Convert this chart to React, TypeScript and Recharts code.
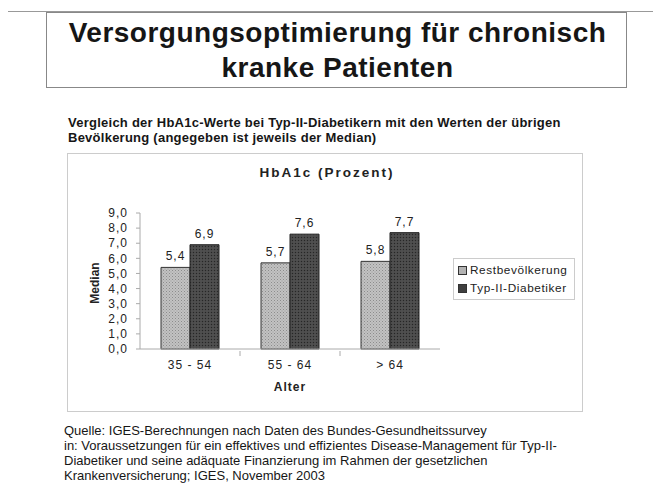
import React from "react";
import { BarChart, Bar, XAxis, YAxis, LabelList } from "recharts";

const categories = ["35 - 54", "55 - 64", "> 64"];
const restValues = [5.4, 5.7, 5.8];
const typ2Values = [6.9, 7.6, 7.7];
const yTicks = [0, 1, 2, 3, 4, 5, 6, 7, 8, 9];
const seriesNames = ["Restbevölkerung", "Typ-II-Diabetiker"];

const data = categories.map((c, i) => ({ cat: c, rest: restValues[i], typ2: typ2Values[i] }));

const fmt = (v: number) => v.toFixed(1).replace(".", ",");

const FONT = "'Liberation Sans', Arial, sans-serif";
const LIGHT = "#b3b3b3";
const DARK = "#3f3f3f";

const XTick = (props: any) => {
  const { x, y, payload, index } = props;
  return (
    <g>
      <text x={x} y={y + 12} textAnchor="middle" fontSize={12} fill="#222" fontFamily={FONT} style={{ letterSpacing: 1 }}>
        {payload.value}
      </text>
      {index < categories.length - 1 && (
        <line x1={x + 50} x2={x + 50} y1={y - 6} y2={y - 1} stroke="#aaa" />
      )}
    </g>
  );
};

export default function App() {
  return (
    <div style={{ position: "relative", width: 661, height: 500, margin: -8, background: "#fff", fontFamily: FONT, overflow: "hidden" }}>
      {/* outer frame */}
      <div style={{ position: "absolute", left: 7, top: 11, width: 660, height: 500, borderLeft: "1px solid #888", borderTop: "1px solid #999" }} />
      {/* title box */}
      <div style={{ position: "absolute", left: 46, top: 12, width: 581, height: 76, border: "1px solid #888", boxSizing: "border-box" }} />
      <div style={{ position: "absolute", left: 46, top: 15, width: 583, textAlign: "center", fontWeight: "bold", fontSize: 28, lineHeight: "35px", letterSpacing: 0.5, color: "#161616" }}>
        Versorgungsoptimierung für chronisch<br />kranke Patienten
      </div>
      {/* subtitle */}
      <div style={{ position: "absolute", left: 68, top: 115, fontWeight: "bold", fontSize: 13, lineHeight: "15px", letterSpacing: 0.25, color: "#161616" }}>
        Vergleich der HbA1c-Werte bei Typ-II-Diabetikern mit den Werten der übrigen<br />Bevölkerung (angegeben ist jeweils der Median)
      </div>
      {/* chart box */}
      <div style={{ position: "absolute", left: 67, top: 153, width: 516, height: 259, border: "1px solid #ccc", boxSizing: "border-box" }} />
      <div style={{ position: "absolute", left: 67, top: 165, width: 520, textAlign: "center", fontWeight: "bold", fontSize: 13.5, letterSpacing: 2, color: "#222" }}>HbA1c (Prozent)</div>
      <div style={{ position: "absolute", left: 95, top: 283, transform: "translate(-50%,-50%) rotate(-90deg)", fontWeight: "bold", fontSize: 12, color: "#222", whiteSpace: "nowrap" }}>Median</div>
      <div style={{ position: "absolute", left: 140, width: 300, top: 380, textAlign: "center", fontWeight: "bold", fontSize: 12, letterSpacing: 1, color: "#222" }}>Alter</div>
      <div style={{ position: "absolute", left: 67, top: 153 }}>
        <BarChart width={516} height={258} data={data} margin={{ top: 60, right: 143, bottom: 32, left: 33 }} barCategoryGap="21%" barGap={0}>
          <defs>
            <pattern id="patLight" width="3" height="3" patternUnits="userSpaceOnUse">
              <rect width="3" height="3" fill="#c2c2c2" />
              <rect x="0" y="0" width="1" height="1" fill="#8c8c8c" />
              <rect x="1.5" y="1.5" width="1" height="1" fill="#9a9a9a" />
            </pattern>
            <pattern id="patDark" width="3" height="3" patternUnits="userSpaceOnUse">
              <rect width="3" height="3" fill="#4a4a4a" />
              <rect x="0" y="0" width="1" height="1" fill="#262626" />
              <rect x="1.5" y="1.5" width="1" height="1" fill="#5e5e5e" />
            </pattern>
          </defs>
          <XAxis dataKey="cat" tick={<XTick />} tickLine={false} stroke="#aaa" height={30} />
          <YAxis domain={[0, 9]} ticks={yTicks} tickFormatter={fmt} interval={0} width={40} stroke="#aaa" tick={{ fill: "#222", fontSize: 12, letterSpacing: 1, fontFamily: FONT }} tickSize={4} tickMargin={8} />
          <Bar dataKey="rest" name={seriesNames[0]} fill="url(#patLight)" stroke="#333" strokeWidth={1} isAnimationActive={false}>
            <LabelList dataKey="rest" position="top" formatter={(v: any) => fmt(Number(v))} style={{ fontSize: 12, fill: "#222", letterSpacing: 1, fontFamily: FONT }} offset={7} />
          </Bar>
          <Bar dataKey="typ2" name={seriesNames[1]} fill="url(#patDark)" stroke="#222" strokeWidth={1} isAnimationActive={false}>
            <LabelList dataKey="typ2" position="top" formatter={(v: any) => fmt(Number(v))} style={{ fontSize: 12, fill: "#222", letterSpacing: 1, fontFamily: FONT }} offset={7} />
          </Bar>
        </BarChart>
      </div>
      {/* legend */}
      <div style={{ position: "absolute", left: 453, top: 258, width: 122, height: 42, border: "1px solid #ccc", boxSizing: "border-box", padding: "2px 0 0 4px", fontSize: 11.8, letterSpacing: 0.6, color: "#222", whiteSpace: "nowrap" }}>
        {seriesNames.map((n, i) => (
          <div key={n} style={{ display: "flex", alignItems: "center", height: 18 }}>
            <span style={{ display: "inline-block", flex: "none", width: 7, height: 7, background: i === 0 ? LIGHT : DARK, border: "1px solid #333", marginRight: 3 }} />
            {n}
          </div>
        ))}
      </div>
      {/* source */}
      <div style={{ position: "absolute", left: 64, top: 423, fontSize: 13, lineHeight: "15px", color: "#161616" }}>
        Quelle: IGES-Berechnungen nach Daten des Bundes-Gesundheitssurvey<br />
        in: Voraussetzungen für ein effektives und effizientes Disease-Management für Typ-II-<br />
        Diabetiker und seine adäquate Finanzierung im Rahmen der gesetzlichen<br />
        Krankenversicherung; IGES, November 2003
      </div>
    </div>
  );
}
